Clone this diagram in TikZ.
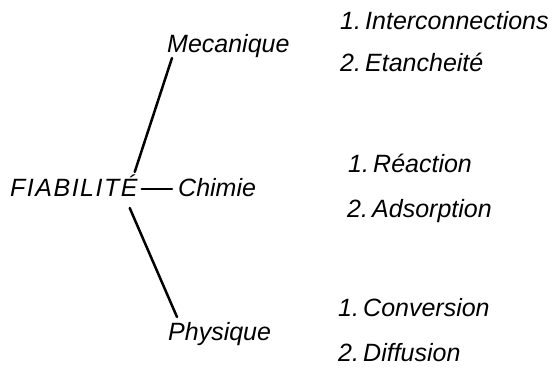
\documentclass[tikz,border=0pt]{standalone}
\usepackage{fontspec}
\setmainfont{Liberation Sans}
\newfontfamily\letterfont{Liberation Sans Italic}
\newfontfamily\capsfont{Liberation Sans Italic}[LetterSpace=6]
\begin{document}
\begin{tikzpicture}[x=1pt,y=1pt,
  label/.style={inner sep=0pt,anchor=base west,font=\fontsize{25}{30}\letterfont},
  branch/.style={line width=2.5pt,line cap=round}]
\useasboundingbox[fill=white] (0,0) rectangle (560,369);

% root and the three branches
\node[label] (fia) at (10,172) {\capsfont FIABILITÉ};
\node[label] (mec) at (167,316) {Mecanique};
\node[label] (chi) at (178,172) {Chimie};
\node[label] (phy) at (168,28) {Physique};

% items of each branch
\node[label] (int) at (340,339) {1.\,Interconnections};
\node[label] (eta) at (340,297) {2.\,Etancheité};
\node[label] (rea) at (348,196) {1.\,Réaction};
\node[label] (ads) at (347,151) {2.\,Adsorption};
\node[label] (con) at (338,52)  {1.\,Conversion};
\node[label] (dif) at (338,7)   {2.\,Diffusion};

% connectors from the root
\draw[branch] ([xshift=-3pt,yshift=25pt]fia.base east) -- ([xshift=5pt,yshift=-5pt]mec.base west);
\draw[branch] ([xshift=4pt,yshift=8pt]fia.base east) -- ([xshift=-6pt,yshift=8pt]chi.base west);
\draw[branch] ([xshift=-8pt,yshift=-11pt]fia.base east) -- ([xshift=9pt,yshift=24pt]phy.base west);
\end{tikzpicture}
\end{document}
